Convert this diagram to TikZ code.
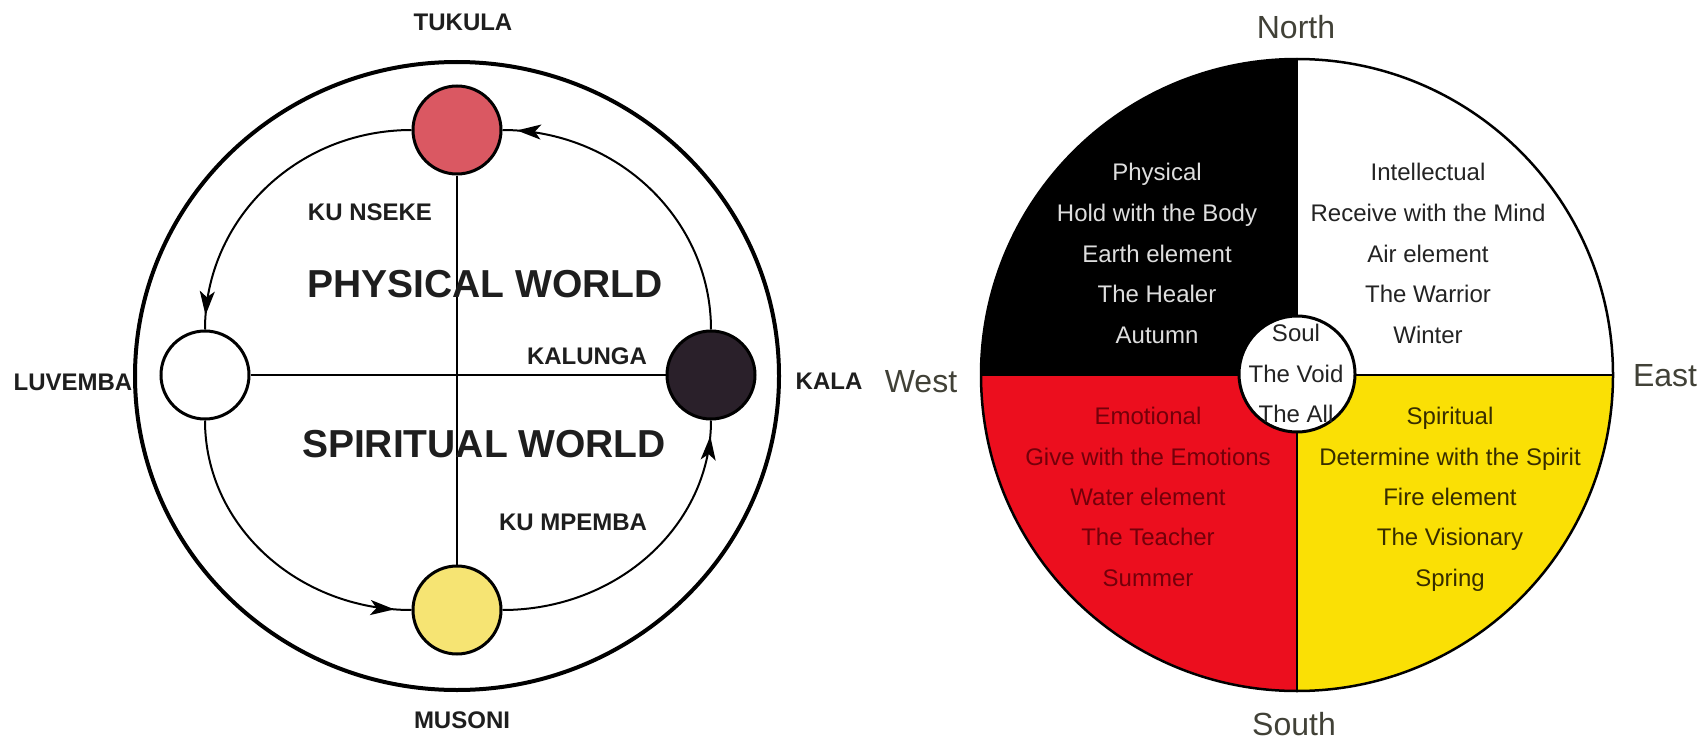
\documentclass[tikz,border=0pt]{standalone}
\usepackage{fontspec}
\setmainfont{Liberation Sans}
\usetikzlibrary{arrows.meta,decorations.markings}
\definecolor{tred}{RGB}{218,88,98}
\definecolor{kblack}{RGB}{42,32,42}
\definecolor{myellow}{RGB}{246,228,115}
\definecolor{labelgray}{RGB}{30,30,30}
\definecolor{wred}{RGB}{236,14,30}
\definecolor{wyellow}{RGB}{250,224,5}
\definecolor{tltext}{RGB}{222,222,222}
\definecolor{trtext}{RGB}{35,35,35}
\definecolor{bltext}{RGB}{115,0,10}
\definecolor{brtext}{RGB}{55,45,0}
\definecolor{compass}{RGB}{65,65,55}
\begin{document}
\begin{tikzpicture}[x=1pt,y=-1pt,
  lbl/.style={font=\bfseries\fontsize{24}{24}\selectfont, text=labelgray, inner sep=0},
  world/.style={font=\bfseries\fontsize{39}{39}\selectfont, text=labelgray, inner sep=0},
  orb/.style={circle, draw=black, line width=3pt, minimum size=88pt, inner sep=0},
  cyc/.style={line width=2pt, postaction=decorate,
    decoration={markings, mark=at position #1 with {\arrow{Stealth[length=24pt,width=15pt,inset=6pt]}}}},
  qt/.style={font=\fontsize{24}{24}\selectfont, anchor=base, inner sep=0},
  cmp/.style={font=\fontsize{32}{32}\selectfont, text=compass, inner sep=0},
  divider/.style={line width=2.5pt, draw=black}
]
\useasboundingbox (0,0) rectangle (1703,741);
\fill[white] (0,0) rectangle (1703,741);

% ---------- left diagram ----------
\draw[line width=4pt] (457,376) ellipse [x radius=322pt, y radius=314pt];

\node[orb, fill=tred] (tukula) at (457,130) {};
\node[orb, fill=white] (luvemba) at (205,375) {};
\node[orb, fill=kblack] (kala) at (711,375) {};
\node[orb, fill=myellow] (musoni) at (457,610) {};

\draw[line width=2pt] (tukula.south) -- (musoni.north);
\draw[line width=2pt] (luvemba.east) -- (kala.west);

\draw[cyc=0.955] (tukula.west) .. controls +(-115,0) and +(0,-110) .. (luvemba.north);
\draw[cyc=0.945] (luvemba.south) .. controls +(0,105) and +(-114,0) .. (musoni.west);
\draw[cyc=0.95] (musoni.east) .. controls +(115,0) and +(0,105) .. (kala.south);
\draw[cyc=0.955] (kala.north) .. controls +(0,-110) and +(115,0) .. (tukula.east);

\node[lbl] (tukulaL) at (463,22) {TUKULA};
\node[lbl] (musoniL) at (462,720) {MUSONI};
\node[lbl] (luvembaL) at (73,382) {LUVEMBA};
\node[lbl] (kalaL) at (829,381) {KALA};
\node[lbl] (nseke) at (370,212) {KU NSEKE};
\node[lbl] (kalunga) at (587,356) {KALUNGA};
\node[lbl] (mpemba) at (573,522) {KU MPEMBA};
\node[world] (phys) at (485,284) {PHYSICAL WORLD};
\node[world] (spir) at (484,444) {SPIRITUAL WORLD};

% ---------- right diagram ----------
\begin{scope}
  \clip (1297,375) circle [radius=316pt];
  \fill[black] (981,59) rectangle (1297,375);
  \fill[wred] (981,375) rectangle (1297,691);
  \fill[wyellow] (1297,375) rectangle (1613,691);
\end{scope}
\draw[divider] (1297,375) circle [radius=316pt];
\draw[divider] (981,375) -- (1613,375);
\draw[divider] (1297,59) -- (1297,691);
\node[circle, draw=black, line width=3pt, fill=white, minimum size=116pt, inner sep=0] (hub) at (1297,374) {};

\node[cmp] (north) at (1296,27) {North};
\node[cmp] (south) at (1294,724) {South};
\node[cmp] (west) at (921,382) {West};
\node[cmp] (east) at (1665,376) {East};

\foreach \t [count=\i] in {Physical, Hold with the Body, Earth element, The Healer, Autumn}
  \node[qt, text=tltext] (tl\i) at (1157,140.5+40.5*\i) {\t};
\foreach \t [count=\i] in {Intellectual, Receive with the Mind, Air element, The Warrior, Winter}
  \node[qt, text=trtext] (tr\i) at (1428,140.5+40.5*\i) {\t};
\foreach \t [count=\i] in {Emotional, Give with the Emotions, Water element, The Teacher, Summer}
  \node[qt, text=bltext] (bl\i) at (1148,384.5+40.3*\i) {\t};
\foreach \t [count=\i] in {Spiritual, Determine with the Spirit, Fire element, The Visionary, Spring}
  \node[qt, text=brtext] (br\i) at (1450,384.5+40.3*\i) {\t};
\foreach \t [count=\i] in {Soul, The Void, The All}
  \node[qt, text=trtext] (hub\i) at (1296,301+40.5*\i) {\t};
\end{tikzpicture}
\end{document}
